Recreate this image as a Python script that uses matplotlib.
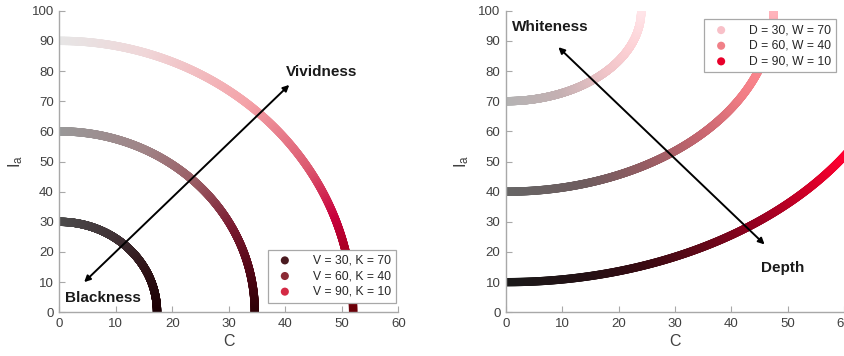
import numpy as np
import matplotlib
matplotlib.use("Agg")
import matplotlib.pyplot as plt
from matplotlib.colors import to_rgb

plt.rcParams['font.family'] = ['Liberation Sans', 'DejaVu Sans']

# ---- data ----
V_vals = [30, 60, 90]          # vividness
K_vals = [70, 40, 10]          # blackness
V_Cend = [17.3, 34.6, 52.0]    # C where each vividness arc meets I_a = 0

D_vals = [30, 60, 90]          # depth
W_vals = [70, 40, 10]          # whiteness
D_Cend = [24.0, 47.5, 71.1]    # C where each depth arc reaches I_a = W + D

left_labels = [f"V = {v}, K = {k}" for v, k in zip(V_vals, K_vals)]
right_labels = [f"D = {d}, W = {w}" for d, w in zip(D_vals, W_vals)]

# ---- styles ----
left_stops = [
    [(0, '#4d4d4d'), (0.4, '#403236'), (0.7, '#301418'), (1.0, '#1c0004')],
    [(0, '#999999'), (0.3, '#a08487'), (0.5, '#9a5c64'), (0.7, '#7a1a30'),
     (0.85, '#560818'), (1.0, '#300006')],
    [(0, '#e6e6e6'), (0.2, '#f0d6d8'), (0.45, '#f4a2a8'), (0.65, '#dc5a70'),
     (0.78, '#c8003c'), (0.9, '#9a0018'), (1.0, '#6a0008')],
]
right_stops = [
    [(0, '#b3b3b3'), (0.27, '#c4b0b2'), (0.54, '#f0c4c8'), (0.74, '#fcd0d4'),
     (1.0, '#ffe4e8')],
    [(0, '#666666'), (0.2, '#6e5c5e'), (0.35, '#945c62'), (0.53, '#c86670'),
     (0.69, '#f07c84'), (0.84, '#ff8a92'), (1.0, '#ffb4bc')],
    [(0, '#1a1a1a'), (0.135, '#241014'), (0.23, '#3a0a12'), (0.33, '#620818'),
     (0.44, '#980020'), (0.56, '#d80028'), (0.64, '#ff0030'), (1.0, '#ff0030')],
]
left_legend_colors = ['#4a1a20', '#8b2a35', '#d42a45']
right_legend_colors = ['#f8c0c8', '#f08088', '#e8002a']

SPINE = '#a8a8a8'
TICKC = '#404040'


def grad(stops, t):
    ts = [s[0] for s in stops]
    cols = np.array([to_rgb(s[1]) for s in stops])
    return np.stack([np.interp(t, ts, cols[:, i]) for i in range(3)], axis=1)


fig = plt.figure(figsize=(8.44, 3.56), dpi=100)
axL = fig.add_axes([59.3 / 844, 1 - 312.3 / 356, 339 / 844, 301.6 / 356])
axR = fig.add_axes([506 / 844, 1 - 312.3 / 356, 338 / 844, 301.6 / 356])

t = np.linspace(0, 1, 700)
ang = t * np.pi / 2
S = 36

for v, ce, st in zip(V_vals, V_Cend, left_stops):
    C = ce * np.sin(ang)
    I = v * np.cos(ang)
    axL.scatter(C, I, s=S, c=grad(st, t), edgecolors='none', zorder=2)

for d, w, ce, st in zip(D_vals, W_vals, D_Cend, right_stops):
    C = ce * np.sin(ang)
    I = w + d * (1 - np.cos(ang))
    axR.scatter(C, I, s=S, c=grad(st, t), edgecolors='none', zorder=2)

for ax, cols, labels, loc, anchor in [
        (axL, left_legend_colors, left_labels, 'lower right', (0.992, 0.032)),
        (axR, right_legend_colors, right_labels, 'upper right', (0.976, 0.971))]:
    handles = [ax.scatter([], [], s=34, color=c, edgecolors='none') for c in cols]
    leg = ax.legend(handles, labels, loc=loc, bbox_to_anchor=anchor,
                    fontsize=8.7, frameon=True, fancybox=False, framealpha=1,
                    edgecolor=SPINE, borderpad=0.4, labelspacing=0.3,
                    handletextpad=1.3, handlelength=2.0, borderaxespad=0)
    leg.get_frame().set_linewidth(0.9)
    leg.set_zorder(5)
    for txt in leg.get_texts():
        txt.set_color('#262626')

arrow = dict(arrowstyle='<|-|>', lw=1.4, color='black', shrinkA=0, shrinkB=0,
             mutation_scale=9)
axL.annotate('', xy=(40.7, 75.4), xytext=(4.4, 10.0), arrowprops=arrow, zorder=4)
axR.annotate('', xy=(9.3, 87.9), xytext=(45.9, 22.5), arrowprops=arrow, zorder=4)

tk = dict(fontsize=11, fontweight='bold', color='#1a1a1a', ha='left', va='center')
axL.text(40.1, 79.8, 'Vividness', **tk)
axL.text(1.06, 4.6, 'Blackness', **tk)
axR.text(1.07, 94.7, 'Whiteness', **tk)
axR.text(45.2, 14.6, 'Depth', **tk)

for ax in (axL, axR):
    ax.set_xlim(0, 60)
    ax.set_ylim(0, 100)
    ax.set_xticks(range(0, 61, 10))
    ax.set_yticks(range(0, 101, 10))
    for side in ('top', 'right'):
        ax.spines[side].set_visible(False)
    for side in ('left', 'bottom'):
        ax.spines[side].set_color(SPINE)
        ax.spines[side].set_linewidth(1.0)
    ax.tick_params(direction='in', length=4, width=0.8, color=SPINE,
                   labelcolor=TICKC, labelsize=9.5, pad=4)
    ax.set_xlabel('C', fontsize=11.5, color=TICKC, labelpad=3)
    ax.set_ylabel(r'$\mathregular{I_a}$', fontsize=12, color=TICKC, labelpad=5)
    ax.patch.set_alpha(0)

fig.savefig('out.png', dpi=100)
